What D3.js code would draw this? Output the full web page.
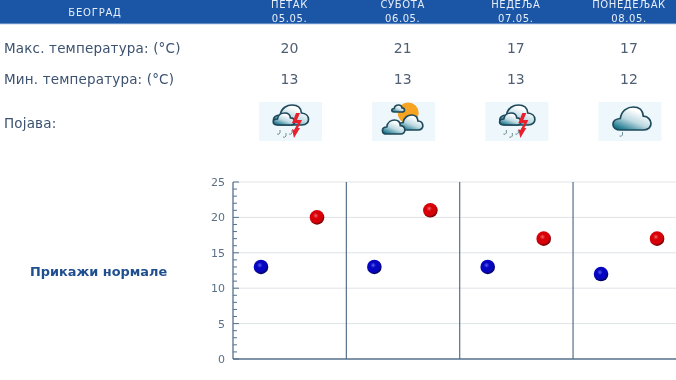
<!DOCTYPE html>
<html><head><meta charset="utf-8">
<script src="https://cdn.jsdelivr.net/npm/d3@7"></script>
<style>
html,body{margin:0;padding:0;background:#fff;overflow:hidden}
svg{display:block;filter:blur(0.4px)}
text{font-family:"DejaVu Sans",sans-serif}
</style></head><body><div id="c"></div>
<script>
const city = "БЕОГРАД";
const dayNames = ["ПЕТАК","СУБОТА","НЕДЕЉА","ПОНЕДЕЉАК"];
const dates = ["05.05.","06.05.","07.05.","08.05."];
const maxT = [20,21,17,17];
const minT = [13,13,13,12];
const icons = ["storm","sun","storm","rain"];
const rowLabels = ["Макс. температура: (°C)","Мин. температура: (°C)","Појава:"];
const normalsLabel = "Прикажи нормале";
const yTicks = [0,5,10,15,20,25];

const W=676,H=380;
const svg=d3.select("#c").append("svg").attr("width",W).attr("height",H);
const defs=svg.append("defs");
function ball(id,hi,mid,dark){
  const g=defs.append("radialGradient").attr("id",id).attr("cx","42%").attr("cy","38%").attr("r","62%");
  g.append("stop").attr("offset","0").attr("stop-color",hi);
  g.append("stop").attr("offset","0.3").attr("stop-color",mid);
  g.append("stop").attr("offset","0.72").attr("stop-color",mid);
  g.append("stop").attr("offset","1").attr("stop-color",dark);
}
ball("bMax","#f06a6a","#d80008","#6a0006");
ball("bMin","#5a60f0","#0606c0","#03034e");
const cg=defs.append("linearGradient").attr("id","cloud").attr("x1","0.8").attr("y1","0.1").attr("x2","0.2").attr("y2","1");
cg.append("stop").attr("offset","0.15").attr("stop-color","#ffffff");
cg.append("stop").attr("offset","0.55").attr("stop-color","#bcd9e1");
cg.append("stop").attr("offset","1").attr("stop-color","#0f6f86");

// header
svg.append("rect").attr("width",W).attr("height",24).attr("fill","#1b55a5");
svg.append("rect").attr("y",23).attr("width",W).attr("height",1.2).attr("fill","#5f8cc4");

const colX=d3.scalePoint().domain(d3.range(4)).range([289.5,629]);
svg.append("text").text(city).attr("x",95).attr("y",16).attr("text-anchor","middle")
  .attr("fill","#e6eef8").attr("font-size",10).attr("letter-spacing",0.8);
const hdr=svg.selectAll("g.h").data(dayNames).join("g").attr("class","h");
hdr.append("text").text(d=>d).attr("x",(d,i)=>colX(i)).attr("y",7.5).attr("text-anchor","middle")
  .attr("fill","#e6eef8").attr("font-size",10).attr("letter-spacing",0.6);
hdr.append("text").text((d,i)=>dates[i]).attr("x",(d,i)=>colX(i)).attr("y",22).attr("text-anchor","middle")
  .attr("fill","#e6eef8").attr("font-size",10).attr("letter-spacing",0.6);

// rows
const rowY=[53,84,128];
svg.selectAll("text.r").data(rowLabels).join("text").attr("class","r").text(d=>d)
  .attr("x",4).attr("y",(d,i)=>rowY[i]).attr("fill","#3c5270").attr("font-size",13.5).attr("letter-spacing",0.17);
[maxT,minT].forEach((arr,k)=>{
  svg.selectAll("text.v"+k).data(arr).join("text").attr("class","v"+k).text(d=>d)
    .attr("x",(d,i)=>colX(i)).attr("y",rowY[k]).attr("text-anchor","middle")
    .attr("fill","#4f5e72").attr("font-size",14);
});

// icons: cloud outline fitted to a box
function cloud(g,cx,top,bottom,w){
  const X=u=>cx+u*w, Y=v=>top+v*(bottom-top);
  const p=d3.path();
  p.moveTo(X(-.3),Y(1));
  p.bezierCurveTo(X(-.54),Y(1),X(-.56),Y(.52),X(-.3),Y(.5));
  p.bezierCurveTo(X(-.27),Y(.14),X(-.1),Y(0),X(.03),Y(0));
  p.bezierCurveTo(X(.18),Y(0),X(.28),Y(.14),X(.29),Y(.4));
  p.bezierCurveTo(X(.54),Y(.42),X(.56),Y(1),X(.3),Y(1));
  p.closePath();
  g.append("path").attr("d",p.toString()).attr("fill","url(#cloud)").attr("stroke","#1e4a5c").attr("stroke-width",1.7);
}
function drops(g,pts){pts.forEach(p=>g.append("path").attr("d",`M${p[0]+1} ${p[1]-2}v3q-1 2-3 1`).attr("fill","none").attr("stroke","#6f8f98").attr("stroke-width",1));}
const ic=svg.selectAll("g.i").data(icons).join("g").attr("class","i").attr("transform",(d,i)=>`translate(${colX(i)+1.5},121)`);
ic.each(function(d){
  const g=d3.select(this);
  g.append("rect").attr("x",-32).attr("y",-19).attr("width",63).attr("height",39).attr("fill","#eef7fb");
  if(d==="storm"){
    cloud(g,0,-16,4,36);
    cloud(g,-7,-8,4,22);
    drops(g,[[-12,11],[-6,14],[0,11]]);
    g.append("path").attr("d","M5 -8L1 2L7 2L3 9L1 8L3 17L9 7L7 7L11 -1L6 -1L9 -8Z").attr("fill","#e8202e");
  } else if(d==="sun"){
    g.append("circle").attr("cx",4).attr("cy",-8).attr("r",10.5).attr("fill","#f6a421");
    cloud(g,-6,-16,-9,13);
    cloud(g,6.5,-6,9,25);
    cloud(g,-10.5,-1,13,23);
  } else {
    cloud(g,1.5,-14,9,39);
    drops(g,[[-9,13]]);
  }
});

svg.append("text").text(normalsLabel).attr("x",30).attr("y",276)
  .attr("fill","#1f4f8f").attr("font-size",12.9).attr("font-weight","bold");

// chart
const y=d3.scaleLinear().domain([0,25]).range([359,182]);
const x0=d3.scaleBand().domain(d3.range(4)).range([233,686.4]);
const x1=d3.scalePoint().domain(["min","max"]).range([28,84]);
svg.append("g").selectAll("line").data(yTicks.slice(1)).join("line")
  .attr("x1",233).attr("x2",W).attr("y1",d=>y(d)).attr("y2",d=>y(d))
  .attr("stroke","#dfe3e6").attr("stroke-width",1);
svg.append("g").selectAll("line").data(d3.range(1,4)).join("line")
  .attr("x1",d=>x0(d)).attr("x2",d=>x0(d)).attr("y1",y(25)).attr("y2",y(0))
  .attr("stroke","#55708c").attr("stroke-width",1.2);
svg.append("g").selectAll("line").data(d3.range(0,26)).join("line")
  .attr("x1",233).attr("x2",d=>d%5===0?239:237).attr("y1",d=>y(d)).attr("y2",d=>y(d))
  .attr("stroke","#55708c").attr("stroke-width",1);
svg.append("line").attr("x1",233).attr("x2",233).attr("y1",y(25)).attr("y2",y(0)).attr("stroke","#55708c").attr("stroke-width",1.3);
svg.append("line").attr("x1",233).attr("x2",W).attr("y1",y(0)).attr("y2",y(0)).attr("stroke","#55708c").attr("stroke-width",1.3);
svg.selectAll("text.t").data(yTicks).join("text").attr("class","t").text(d=>d)
  .attr("x",225).attr("y",d=>y(d)+4).attr("text-anchor","end").attr("fill","#5a7086").attr("font-size",11);

function dots(arr,key,fill){
  svg.selectAll("circle."+key).data(arr).join("circle").attr("class",key)
    .attr("cx",(d,i)=>x0(i)+x1(key)).attr("cy",d=>y(d)).attr("r",7.3).attr("fill",fill);
}
dots(minT,"min","url(#bMin)");
dots(maxT,"max","url(#bMax)");
</script></body></html>
